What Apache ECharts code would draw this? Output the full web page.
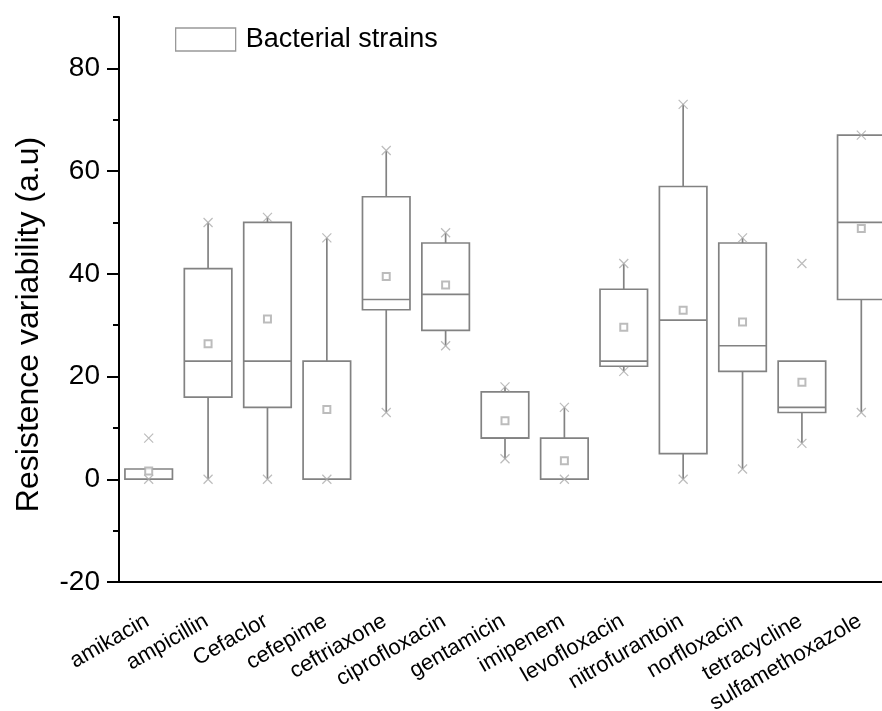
<!DOCTYPE html>
<html>
<head>
<meta charset="utf-8">
<script src="https://cdn.jsdelivr.net/npm/echarts@6/dist/echarts.min.js"></script>
<style>
  html, body { margin: 0; padding: 0; background: #fff; }
  #main { width: 882px; height: 711px; }
</style>
</head>
<body>
<div id="main"></div>
<script>
// antibiotic categories
const categories = ['amikacin', 'ampicillin', 'Cefaclor', 'cefepime', 'ceftriaxone', 'ciprofloxacin',
  'gentamicin', 'imipenem', 'levofloxacin', 'nitrofurantoin', 'norfloxacin', 'tetracycline', 'sulfamethoxazole'];

// box statistics
const whiskerLow  = [0, 0, 0, 0, 13, 26, 4, 0, 21, 0, 2, 7, 13];
const q1          = [0, 16, 14, 0, 33, 29, 8, 0, 22, 5, 21, 13, 35];
const median      = [0, 23, 23, 0, 35, 36, 8, 0, 23, 31, 26, 14, 50];
const q3          = [2, 41, 50, 23, 55, 46, 17, 8, 37, 57, 46, 23, 67];
const whiskerHigh = [2, 50, 51, 47, 64, 48, 18, 14, 42, 73, 47, 23, 67];
const means       = [1.6, 26.4, 31.2, 13.6, 39.5, 37.8, 11.4, 3.6, 29.6, 32.9, 30.6, 18.9, 48.8];
const minVals     = [0, 0, 0, 0, 13, 26, 4, 0, 21, 0, 2, 7, 13];
const maxVals     = [8, 50, 51, 47, 64, 48, 18, 14, 42, 73, 47, 42, 67];

const majorTicks = [-20, 0, 20, 40, 60, 80];

const boxColor = '#828282';
const markColor = '#ababab';
const font = 'Liberation Sans, Arial, sans-serif';

const boxData = categories.map((c, i) => [i, whiskerLow[i], q1[i], median[i], q3[i], whiskerHigh[i]]);
const meanData = categories.map((c, i) => [i, means[i]]);
const extremeData = [];
categories.forEach((c, i) => {
  extremeData.push([i, minVals[i]]);
  extremeData.push([i, maxVals[i]]);
});

function renderBox(params, api) {
  const x = api.value(0);
  const pLow = api.coord([x, api.value(1)]);
  const pQ1 = api.coord([x, api.value(2)]);
  const pMed = api.coord([x, api.value(3)]);
  const pQ3 = api.coord([x, api.value(4)]);
  const pHigh = api.coord([x, api.value(5)]);
  const w = api.size([1, 0])[0] * 0.8;
  const cx = pQ1[0];
  const style = { stroke: boxColor, lineWidth: 1.7, fill: null };
  const children = [
    { type: 'rect', shape: { x: cx - w / 2, y: pQ3[1], width: w, height: pQ1[1] - pQ3[1] }, style: style },
    { type: 'line', shape: { x1: cx - w / 2, y1: pMed[1], x2: cx + w / 2, y2: pMed[1] }, style: style }
  ];
  if (pHigh[1] < pQ3[1]) {
    children.push({ type: 'line', shape: { x1: cx, y1: pQ3[1], x2: cx, y2: pHigh[1] }, style: style });
  }
  if (pLow[1] > pQ1[1]) {
    children.push({ type: 'line', shape: { x1: cx, y1: pQ1[1], x2: cx, y2: pLow[1] }, style: style });
  }
  return { type: 'group', children: children };
}

const chart = echarts.init(document.getElementById('main'));
chart.setOption({
  animation: false,
  backgroundColor: '#fff',
  textStyle: { fontFamily: font },
  legend: {
    left: 175,
    top: 26,
    itemWidth: 60,
    itemHeight: 23,
    padding: 0,
    data: [{
      name: 'Bacterial strains',
      icon: 'rect',
      itemStyle: { color: '#fff', borderColor: '#999', borderWidth: 1.3 }
    }],
    textStyle: { fontSize: 27, color: '#000', fontFamily: font, padding: [0, 0, 0, 5] }
  },
  grid: { left: 119, right: -9, top: 17, bottom: 129, outerBoundsMode: 'none', containLabel: false },
  xAxis: {
    type: 'category',
    data: categories,
    boundaryGap: true,
    axisLine: { onZero: false, lineStyle: { color: '#000', width: 2 } },
    axisTick: { alignWithLabel: true, length: 12, lineStyle: { color: '#000', width: 2 } },
    axisLabel: {
      interval: 0,
      rotate: 30,
      align: 'right',
      verticalAlign: 'top',
      margin: 24,
      padding: [0, 8, 0, 0],
      fontSize: 22,
      color: '#000',
      fontFamily: font
    },
    splitLine: { show: false }
  },
  yAxis: [{
    type: 'value',
    min: -20,
    max: 90,
    interval: 10,
    name: 'Resistence variability (a.u)',
    nameLocation: 'middle',
    nameGap: 74,
    nameTextStyle: { fontSize: 32, color: '#000', fontFamily: font, padding: [0, 50, 0, 0] },
    axisLine: { show: true, lineStyle: { color: '#000', width: 2 } },
    axisTick: { show: true, length: 12, customValues: majorTicks, lineStyle: { color: '#000', width: 2 } },
    axisLabel: { customValues: majorTicks, fontSize: 28, color: '#000', margin: 19, fontFamily: font },
    splitLine: { show: false }
  }, {
    type: 'value',
    min: -20,
    max: 90,
    interval: 10,
    position: 'left',
    axisLine: { show: false },
    axisTick: { show: true, length: 6, lineStyle: { color: '#000', width: 2 } },
    axisLabel: { show: false },
    splitLine: { show: false }
  }],
  series: [{
    name: 'Bacterial strains',
    type: 'custom',
    renderItem: renderBox,
    encode: { x: 0, y: [1, 2, 3, 4, 5] },
    data: boxData,
    z: 2
  }, {
    name: 'mean',
    type: 'scatter',
    symbol: 'emptyRect',
    symbolSize: 7,
    itemStyle: { color: markColor, borderWidth: 1 },
    data: meanData,
    z: 3
  }, {
    name: 'extremes',
    type: 'scatter',
    symbol: 'path://M0,0L10,10M10,0L0,10',
    symbolSize: 9,
    itemStyle: { color: 'none', borderColor: markColor, borderWidth: 1.2 },
    data: extremeData,
    z: 3
  }]
});
</script>
</body>
</html>
